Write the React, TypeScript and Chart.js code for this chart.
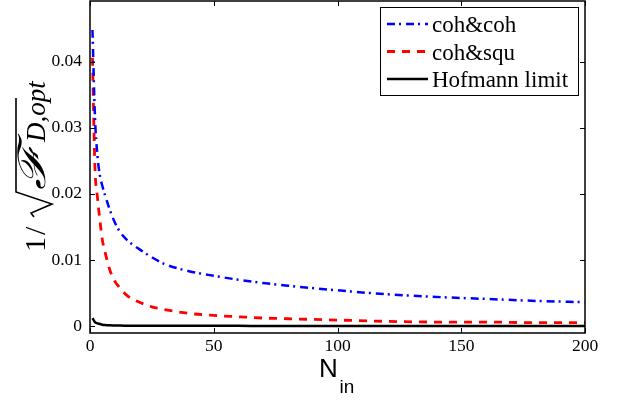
import React, { useEffect, useRef } from "react";
import { Chart, registerables } from "chart.js";
Chart.register(...registerables);

const nValues = [1, 2, 3, 4, 5, 6, 8, 10, 12, 15, 20, 25, 30, 40, 50, 60, 70, 80, 100, 120, 140, 160, 180, 200];
const cohCoh = [0.0448, 0.0317, 0.0258, 0.0228, 0.0212, 0.0199, 0.0176, 0.0157, 0.0143, 0.013, 0.0116, 0.0104, 0.0094, 0.0083, 0.0076, 0.007, 0.0065, 0.0061, 0.0054, 0.0048, 0.0044, 0.0041, 0.0038, 0.0036];
const cohSqu = [0.0406, 0.024, 0.0195, 0.016, 0.013, 0.0113, 0.0085, 0.0068, 0.0058, 0.0046, 0.0036, 0.0029, 0.0025, 0.0019, 0.0016, 0.0014, 0.0012, 0.0011, 0.0009, 0.0007, 0.0006, 0.0006, 0.0005, 0.0005];
const hofmann = [0.0012, 0.0006, 0.0004, 0.0003, 0.0002, 0.00015, 0.0001, 0.00008, 0.00006, 0.00005, 0.00004, 0.00003, 0.00003, 0.00002, 0.00002, 0.00002, 0.00001, 0.00001, 0.00001, 0.00001, 0.00001, 0.00001, 0.00001, 0.00001];

const seriesNames = ["coh&coh", "coh&squ", "Hofmann limit"];
const xTicks = [0, 50, 100, 150, 200];
const xTickLabels = ["0", "50", "100", "150", "200"];
const yTicks = [0, 0.01, 0.02, 0.03, 0.04];
const yTickLabels = ["0", "0.01", "0.02", "0.03", "0.04"];
const xTitleMain = "N";
const xTitleSub = "in";

const SERIF = '"Liberation Serif", "Times New Roman", serif';
const SANS = '"Liberation Sans", Arial, sans-serif';

const styles = [
  { color: "#0000ff", dash: [8, 4, 2, 5], width: 2.5 },
  { color: "#ff0000", dash: [8, 7], width: 2.8 },
  { color: "#000000", dash: [], width: 2.5 },
];

const decorPlugin = {
  id: "decor",
  afterDraw(chart: any) {
    const ctx = chart.ctx;
    const a = chart.chartArea;
    const xs = chart.scales.x;
    const ys = chart.scales.y;
    ctx.save();
    // frame
    ctx.strokeStyle = "#000";
    ctx.lineWidth = 1.5;
    ctx.setLineDash([]);
    ctx.strokeRect(a.left, a.top, a.right - a.left, a.bottom - a.top);
    // inward ticks
    ctx.lineWidth = 1;
    const tl = 5;
    ctx.beginPath();
    xTicks.forEach((v) => {
      const px = Math.round(xs.getPixelForValue(v)) + 0.5;
      ctx.moveTo(px, a.bottom);
      ctx.lineTo(px, a.bottom - tl);
      ctx.moveTo(px, a.top);
      ctx.lineTo(px, a.top + tl);
    });
    yTicks.forEach((v) => {
      const py = Math.round(ys.getPixelForValue(v)) + 0.5;
      ctx.moveTo(a.left, py);
      ctx.lineTo(a.left + tl, py);
      ctx.moveTo(a.right, py);
      ctx.lineTo(a.right - tl, py);
    });
    ctx.stroke();

    // legend
    const lx = 380.5, ly = 7.5, lw = 198, lh = 88;
    ctx.fillStyle = "#fff";
    ctx.fillRect(lx, ly, lw, lh);
    ctx.strokeStyle = "#000";
    ctx.lineWidth = 1;
    ctx.strokeRect(lx, ly, lw, lh);
    const lineYs = [24, 51.5, 79];
    const baseYs = [31.5, 59.5, 87];
    seriesNames.forEach((name, i) => {
      const st = styles[i];
      ctx.strokeStyle = st.color;
      ctx.lineWidth = st.width;
      ctx.setLineDash(st.dash);
      ctx.beginPath();
      ctx.moveTo(387, lineYs[i]);
      ctx.lineTo(428, lineYs[i]);
      ctx.stroke();
      ctx.setLineDash([]);
      ctx.fillStyle = "#000";
      ctx.font = `23px ${SERIF}`;
      ctx.textAlign = "left";
      ctx.textBaseline = "alphabetic";
      ctx.fillText(name, 432, baseYs[i]);
    });

    // x title
    ctx.fillStyle = "#000";
    ctx.textAlign = "left";
    ctx.textBaseline = "alphabetic";
    ctx.font = `26px ${SANS}`;
    ctx.fillText(xTitleMain, 319, 377);
    ctx.font = `19px ${SANS}`;
    ctx.fillText(xTitleSub, 339.5, 393);

    // y title: 1/sqrt(F D,opt)
    ctx.save();
    ctx.translate(45, 252);
    ctx.rotate(-Math.PI / 2);
    ctx.fillStyle = "#000";
    ctx.textBaseline = "alphabetic";
    ctx.textAlign = "left";
    ctx.font = `30px ${SERIF}`;
    ctx.fillText("1", 0, 0);
    ctx.fillText("/", 17, 0);
    ctx.strokeStyle = "#000";
    ctx.lineWidth = 1.6;
    ctx.beginPath();
    ctx.moveTo(35, -11);
    ctx.lineTo(39, -14);
    ctx.lineTo(48, 7);
    ctx.lineTo(60, -29);
    ctx.lineTo(154, -29);
    ctx.stroke();
    ctx.font = `italic 38px "DejaVu Serif", ${SERIF}`;
    const fw = ctx.measureText("\u2131").width;
    ctx.save();
    ctx.translate(62, 0);
    ctx.scale(1.45, 1);
    ctx.fillText("\u2131", 0, 0);
    ctx.restore();
    ctx.font = `italic 27px ${SERIF}`;
    ctx.fillText("D,opt", 62 + fw * 1.45 + 3, 0);
    ctx.restore();

    ctx.restore();
  },
};

export default function App() {
  const ref = useRef<HTMLCanvasElement | null>(null);
  useEffect(() => {
    const canvas = ref.current;
    if (!canvas) return;
    const seriesData = [cohCoh, cohSqu, hofmann];
    const chart = new Chart(canvas, {
      type: "line",
      data: {
        datasets: seriesData.map((arr, i) => ({
          label: seriesNames[i],
          data: nValues.map((n, j) => ({ x: n, y: arr[j] })),
          borderColor: styles[i].color,
          borderDash: styles[i].dash,
          borderWidth: styles[i].width,
          pointRadius: 0,
          fill: false,
          cubicInterpolationMode: "monotone" as const,
        })),
      },
      options: {
        animation: false,
        responsive: true,
        maintainAspectRatio: false,
        layout: { autoPadding: false, padding: { top: 1, right: 37, left: 0, bottom: 0 } },
        plugins: { legend: { display: false }, tooltip: { enabled: false } },
        scales: {
          x: {
            type: "linear",
            min: 0,
            max: 200,
            afterBuildTicks: (s: any) => {
              s.ticks = xTicks.map((v) => ({ value: v }));
            },
            afterFit: (s: any) => {
              s.height = 68;
              s.paddingLeft = 0;
              s.paddingRight = 0;
              s.paddingTop = 0;
              s.paddingBottom = 0;
            },
            grid: { display: false, drawTicks: false },
            border: { display: false },
            ticks: {
              autoSkip: false,
              maxRotation: 0,
              padding: 3,
              color: "#000",
              font: { family: SERIF, size: 17.5 },
              callback: (v: any) => xTickLabels[xTicks.indexOf(Number(v))] ?? "",
            },
          },
          y: {
            type: "linear",
            min: -0.00106,
            max: 0.0492,
            afterBuildTicks: (s: any) => {
              s.ticks = yTicks.map((v) => ({ value: v }));
            },
            afterFit: (s: any) => {
              s.width = 90;
              s.paddingLeft = 0;
              s.paddingRight = 0;
              s.paddingTop = 0;
              s.paddingBottom = 0;
            },
            grid: { display: false, drawTicks: false },
            border: { display: false },
            ticks: {
              autoSkip: false,
              padding: 8,
              color: "#000",
              font: { family: SERIF, size: 17.5 },
              callback: (v: any) => {
                const idx = yTicks.findIndex((t) => Math.abs(t - Number(v)) < 1e-9);
                return idx >= 0 ? yTickLabels[idx] : "";
              },
            },
          },
        },
      },
      plugins: [decorPlugin],
    });
    return () => chart.destroy();
  }, []);
  return (
    <div style={{ position: "fixed", left: 0, top: 0, width: 622, height: 401, background: "#fff" }}>
      <canvas ref={ref} />
    </div>
  );
}
